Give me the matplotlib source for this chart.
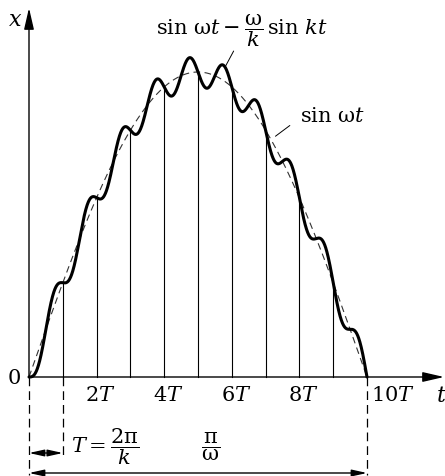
import numpy as np
import matplotlib
matplotlib.use("Agg")
import matplotlib.pyplot as plt

# ---- data (time in units of T = 2*pi/k, pi/omega = 10 T) ----
n_periods = 10            # pi / omega expressed in periods T
omega_over_k = 0.05       # ratio omega/k = 1 / (2 * n_periods)
grid_periods = [1, 2, 3, 4, 5, 6, 7, 8, 9]
tick_positions = [2, 4, 6, 8]
tick_labels = ["2$T$", "4$T$", "6$T$", "8$T$"]
end_label = "10$T$"

plt.rcParams["font.family"] = ["DejaVu Serif"]
plt.rcParams["mathtext.fontset"] = "dejavuserif"

tau = np.linspace(0, n_periods, 2000)
def envelope(t):
    return np.sin(np.pi * t / n_periods)
def motion(t):
    return envelope(t) - omega_over_k * np.sin(2 * np.pi * t)

# pixel layout -> data mapping
px_t0, px_per_T = 29.0, 33.8
px_x0, px_per_x = 378.0, 305.0
W, H = 445, 477
def T_(px):
    return (px - px_t0) / px_per_T
def X_(py):
    return (px_x0 - py) / px_per_x

fig = plt.figure(figsize=(W / 100, H / 100), dpi=100)
ax = fig.add_axes([0, 0, 1, 1])
ax.set_xlim(T_(0), T_(W))
ax.set_ylim(X_(H), X_(0))
ax.axis("off")

fs = 15

# axes with arrows
ax.annotate("", xy=(T_(444), 0), xytext=(0, 0),
            arrowprops=dict(arrowstyle="-|>,head_length=1.3,head_width=0.3",
                            lw=1.0, color="k", shrinkA=0, shrinkB=0,
                            mutation_scale=10))
ax.annotate("", xy=(0, X_(9)), xytext=(0, 0),
            arrowprops=dict(arrowstyle="-|>,head_length=1.3,head_width=0.3",
                            lw=1.0, color="k", shrinkA=0, shrinkB=0,
                            mutation_scale=10))

# vertical lines at each period, up to the curve
for g in grid_periods:
    ax.plot([g, g], [0, motion(np.array([g]))[0]], color="k", lw=0.8)

# dashed envelope and thick motion curve
ax.plot(tau, envelope(tau), color="#333333", lw=0.8, dashes=(6, 4))
ax.plot(tau, motion(tau), color="k", lw=2.2, solid_capstyle="round")

# dashed extension lines
ax.plot([0, 0], [0, X_(476)], color="k", lw=0.9, dashes=(7, 4))
ax.plot([n_periods, n_periods], [0, X_(476)], color="k", lw=0.9, dashes=(7, 4))
ax.plot([1, 1], [0, X_(456)], color="k", lw=0.9, dashes=(7, 4))

# dimension arrows
dim = dict(arrowstyle="<|-|>,head_length=0.9,head_width=0.2",
           lw=1.0, color="k", shrinkA=0, shrinkB=0, mutation_scale=10)
ax.annotate("", xy=(1, X_(454)), xytext=(0, X_(454)), arrowprops=dim)
ax.annotate("", xy=(n_periods, X_(474)), xytext=(0, X_(474)), arrowprops=dim)

# axis labels
ax.text(T_(15), X_(20), "$x$", fontsize=fs + 1, ha="center", va="center")
ax.text(T_(14), X_(379), "0", fontsize=fs, ha="center", va="center")
ax.text(T_(441), X_(396), "$t$", fontsize=fs + 1, ha="center", va="center")
for p, lab in zip(tick_positions, tick_labels):
    ax.text(p + 0.12, X_(396), lab, fontsize=fs, ha="center", va="center")
ax.text(T_(371), X_(396), end_label, fontsize=fs, ha="left", va="center")

# formula labels
ax.text(T_(105), X_(447), r"$T=\dfrac{2\mathrm{\pi}}{k}$", fontsize=fs,
        ha="center", va="center")
ax.text(T_(211), X_(447), r"$\dfrac{\mathrm{\pi}}{\mathrm{\omega}}$", fontsize=fs,
        ha="center", va="center")

t_lead1 = 5.8
ax.annotate(r"$\mathrm{sin}\ \mathrm{\omega}t-\dfrac{\mathrm{\omega}}{k}\,\mathrm{sin}\ kt$",
            xy=(t_lead1, motion(np.array([t_lead1]))[0]),
            xytext=(T_(242), X_(31)), fontsize=fs, ha="center", va="center",
            arrowprops=dict(arrowstyle="-", lw=0.7, color="k",
                            shrinkA=0, shrinkB=0, relpos=(0.46, 0.0)))
t_lead2 = 7.16
ax.annotate(r"$\mathrm{sin}\ \mathrm{\omega}t$",
            xy=(t_lead2, envelope(np.array([t_lead2]))[0]),
            xytext=(T_(332), X_(117)), fontsize=fs, ha="center", va="center",
            arrowprops=dict(arrowstyle="-", lw=0.7, color="k",
                            shrinkA=0, shrinkB=4, relpos=(-0.15, 0.0)))

fig.savefig("out.png", dpi=100)
